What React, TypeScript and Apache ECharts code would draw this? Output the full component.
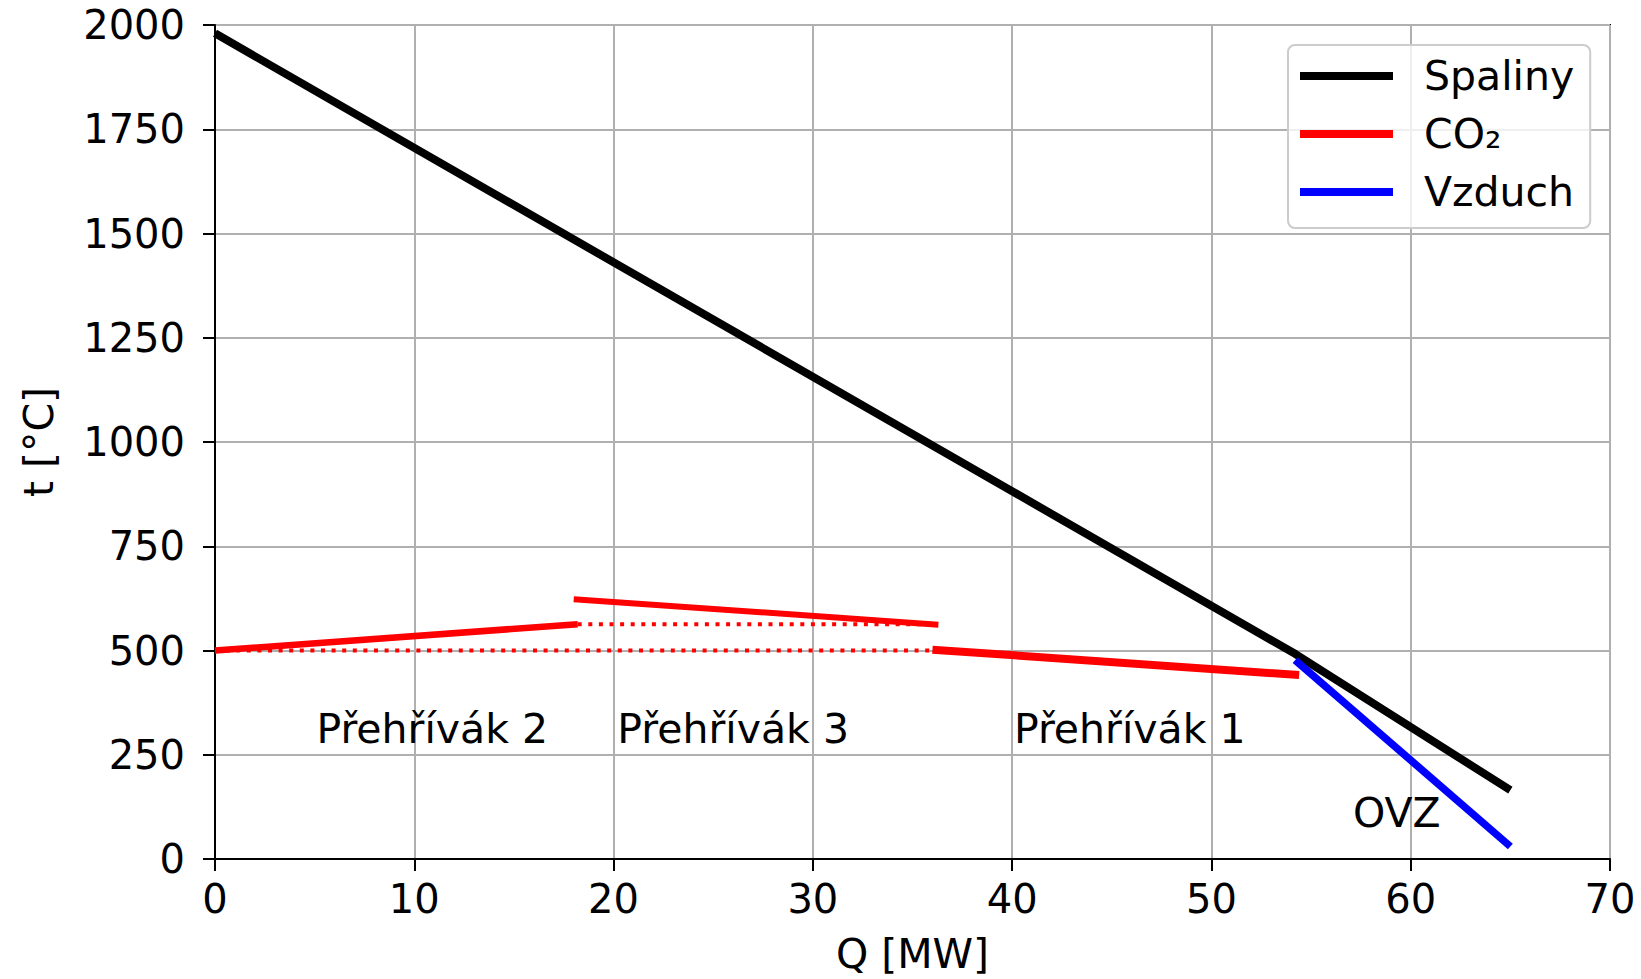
import React, { useEffect, useRef } from "react";
import * as echarts from "echarts";

const FONT = "DejaVu Sans";

// Flue gas (Spaliny)
const spaliny: number[][] = [
  [0, 1980],
  [54.2, 492],
  [65, 165],
];
// Air (Vzduch)
const vzduch: number[][] = [
  [54.2, 477],
  [65, 30],
];
// CO2 segments
const co2Prehrivak2: number[][] = [
  [0, 500],
  [18.2, 563],
];
const co2Prehrivak3: number[][] = [
  [18.0, 623],
  [36.3, 562],
];
const co2Prehrivak1: number[][] = [
  [36.0, 502],
  [54.4, 441],
];
const co2DottedUpper: number[][] = [
  [18.2, 563],
  [36.2, 563],
];
const co2DottedLower: number[][] = [
  [0, 500],
  [36.0, 500],
];
// Section labels
const labelTexts = ["Přehřívák 2", "Přehřívák 3", "Přehřívák 1", "OVZ"];
const labelX = [10.9, 26.0, 45.9, 59.3];
const labelY = [312, 312, 312, 111];

const legendNames = ["Spaliny", "CO₂", "Vzduch"];

export default function App() {
  const ref = useRef<HTMLDivElement>(null);
  useEffect(() => {
    if (!ref.current) return;
    const chart = echarts.init(ref.current, undefined, { renderer: "svg" });
    const dotted = [4, 6.6];
    const lineSeries = (
      name: string,
      data: number[][],
      color: string,
      width: number,
      type: any = "solid",
      z = 3
    ) => ({
      type: "line",
      name,
      data,
      symbol: "none",
      z,
      lineStyle: { color, width, type, cap: "butt" },
      itemStyle: { color },
      silent: true,
    });
    const labelData = labelTexts.map((t, i) => [labelX[i], labelY[i], t]);
    chart.setOption({
      animation: false,
      textStyle: { fontFamily: FONT, color: "#000" },
      grid: {
        left: 215,
        right: 31,
        top: 25,
        bottom: 120,
        show: true,
        borderColor: "#000",
        borderWidth: 2,
        backgroundColor: "transparent",
      },
      xAxis: {
        type: "value",
        min: 0,
        max: 70,
        interval: 10,
        name: "Q [MW]",
        nameLocation: "middle",
        nameGap: 74,
        nameTextStyle: { fontSize: 41, color: "#000", fontFamily: FONT },
        axisLine: { show: true, onZero: false, lineStyle: { color: "#000", width: 2 } },
        axisTick: { show: true, length: 12, lineStyle: { color: "#000", width: 2 } },
        axisLabel: {
          fontSize: 40,
          color: "#000",
          margin: 20,
          fontFamily: FONT,
          formatter: (v: number) => String(v),
        },
        splitLine: { show: true, lineStyle: { color: "#b0b0b0", width: 2 } },
      },
      yAxis: {
        type: "value",
        min: 0,
        max: 2000,
        interval: 250,
        name: "t [°C]",
        nameLocation: "middle",
        nameGap: 156,
        nameTextStyle: { fontSize: 41, color: "#000", fontFamily: FONT },
        axisLine: { show: true, onZero: false, lineStyle: { color: "#000", width: 2 } },
        axisTick: { show: true, length: 12, lineStyle: { color: "#000", width: 2 } },
        axisLabel: {
          fontSize: 40,
          color: "#000",
          margin: 30,
          fontFamily: FONT,
          formatter: (v: number) => String(v),
        },
        splitLine: { show: true, lineStyle: { color: "#b0b0b0", width: 2 } },
      },
      legend: {
        data: legendNames,
        orient: "vertical",
        left: 1288,
        top: 45,
        icon: "rect",
        itemWidth: 93,
        itemHeight: 8,
        itemGap: 16,
        padding: [10, 16, 15, 12],
        borderColor: "#cccccc",
        borderWidth: 2,
        borderRadius: 7,
        backgroundColor: "rgba(255,255,255,0.8)",
        selectedMode: false,
        textStyle: {
          fontSize: 41,
          color: "#000",
          fontFamily: FONT,
          lineHeight: 42,
          padding: [0, 0, 0, 26],
        },
      },
      series: [
        lineSeries("CO₂", co2Prehrivak2, "#ff0000", 6.5),
        lineSeries("CO₂", co2Prehrivak3, "#ff0000", 6),
        lineSeries("CO₂", co2Prehrivak1, "#ff0000", 8),
        lineSeries("CO₂", co2DottedUpper, "#ff0000", 4, dotted),
        lineSeries("CO₂", co2DottedLower, "#ff0000", 4, dotted),
        lineSeries("Spaliny", spaliny, "#000000", 8, "solid", 4),
        lineSeries("Vzduch", vzduch, "#0000ff", 7.5, "solid", 5),
        {
          type: "scatter",
          name: "labels",
          data: labelData,
          symbolSize: 0,
          silent: true,
          z: 6,
          itemStyle: { opacity: 1 },
          label: {
            show: true,
            position: [0, 0],
            formatter: (p: any) => p.value[2],
            fontSize: 41,
            color: "#000000",
            opacity: 1,
            fontFamily: FONT,
            align: "center",
            verticalAlign: "middle",
          },
        },
      ],
    });
    return () => chart.dispose();
  }, []);
  return (
    <div
      ref={ref}
      style={{ position: "absolute", left: 0, top: 0, width: 1641, height: 979, background: "#fff" }}
    />
  );
}
